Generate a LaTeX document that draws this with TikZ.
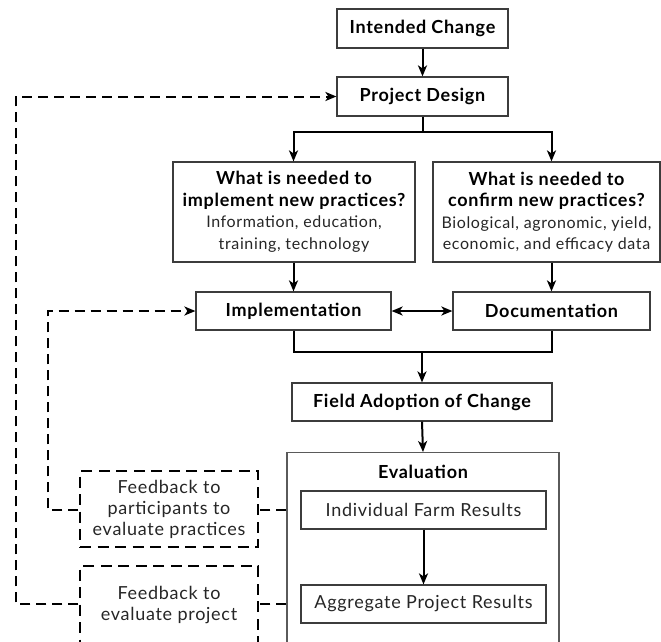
\documentclass[tikz,border=0pt]{standalone}
\usepackage{fontspec}
\setmainfont{Lato}
\newfontfamily\flowfont{Lato}[LetterSpace=4]
\usepackage{tikz}
\usetikzlibrary{arrows.meta}

\definecolor{boxgray}{HTML}{3C3C3C}
\definecolor{evalgray}{HTML}{5A5A5A}
\definecolor{textgray}{HTML}{262626}

\begin{document}
\begin{tikzpicture}[x=1pt, y=-1pt,
    >={Stealth[length=11pt, width=9pt, inset=3pt]},
    box/.style={draw=boxgray, line width=1.2pt, fill=white, inner sep=0pt, align=center},
    headfont/.style={font=\flowfont\fontsize{18}{21.5}\selectfont\bfseries},
    bodyfont/.style={font=\flowfont\fontsize{18}{21}\selectfont, text=textgray},
    flow/.style={line width=2pt},
    feedback/.style={line width=2pt, dash pattern=on 10pt off 6pt},
    fbbox/.style={draw, line width=2.4pt, dash pattern=on 11pt off 6.5pt, fill=white, inner sep=0pt, align=center, font=\flowfont\fontsize{18}{21}\selectfont, text=textgray}
  ]
    \useasboundingbox (0,0) rectangle (661,641);

    % main column
    \node[box, headfont, minimum width=171pt, minimum height=39pt] (intended) at (422.5,28.5) {Intended Change};
    \node[box, headfont, minimum width=171pt, minimum height=39pt] (design) at (422.5,96.5) {Project Design};

    \node[box, headfont, minimum width=242pt, minimum height=100pt] (needimpl) at (294,212)
      {What is needed to\\ implement new practices?\\
       {\fontsize{16}{20}\selectfont\mdseries\color{textgray}Information, education,}\\
       {\fontsize{16}{20}\selectfont\mdseries\color{textgray}training, technology}};
    \node[box, headfont, minimum width=227pt, minimum height=100pt] (needconf) at (546.5,212)
      {What is needed to\\ confirm new practices?\\
       {\fontsize{16}{20}\selectfont\mdseries\color{textgray}Biological, agronomic, yield,}\\
       {\fontsize{16}{20}\selectfont\mdseries\color{textgray}economic, and efficacy data}};

    \node[box, headfont, minimum width=195pt, minimum height=38pt] (impl) at (293.5,311) {Implementation};
    \node[box, headfont, minimum width=197pt, minimum height=38pt] (doc) at (551.5,311) {Documentation};

    \node[box, headfont, minimum width=260pt, minimum height=38pt] (field) at (422,402) {Field Adoption of Change};

    \node[draw=evalgray, line width=1.2pt, minimum width=272pt, minimum height=200pt, anchor=north] (eval) at (423,452) {};
    \node[headfont] (evaltitle) at (423,472) {Evaluation};
    \node[box, bodyfont, minimum width=245pt, minimum height=38pt] (farm) at (423.5,510) {Individual Farm Results};
    \node[box, bodyfont, minimum width=245pt, minimum height=38pt] (aggr) at (423.5,604) {Aggregate Project Results};

    % solid connectors
    \coordinate (split) at (422.5,132);
    \coordinate (join) at (422,352);
    \draw[flow, ->] (intended) -- (design);
    \draw[flow] (design.south) -- (split);
    \draw[flow, ->] (split) -| (impl |- needimpl.north);
    \draw[flow, ->] (split) -| (doc |- needconf.north);
    \draw[flow, ->] (impl |- needimpl.south) -- (impl.north);
    \draw[flow, ->] (doc |- needconf.south) -- (doc.north);
    \draw[flow, <->] (impl.east) -- (doc.west);
    \draw[flow] (impl.south) |- (join) -| (doc.south);
    \draw[flow, ->] (join) -- (field.north);
    \draw[flow, ->] (field.south) -- (eval.north);
    \draw[flow, ->] (farm.south) -- (aggr.north);

    % feedback loops
    \coordinate (loopin) at (48,0);
    \coordinate (loopout) at (16,0);
    \draw[feedback, ->] (eval.west |- farm) -| (loopin |- impl.west) -- (impl.west);
    \draw[feedback, ->] (eval.west |- aggr) -| (loopout |- design.west) -- (design.west);

    \node[fbbox, minimum width=178pt, minimum height=76pt] (fbpractice) at (169,509) {Feedback to\\ participants to\\ evaluate practices};
    \node[fbbox, minimum width=178pt, minimum height=78pt] (fbproject) at (169,605) {Feedback to\\ evaluate project};
\end{tikzpicture}
\end{document}
